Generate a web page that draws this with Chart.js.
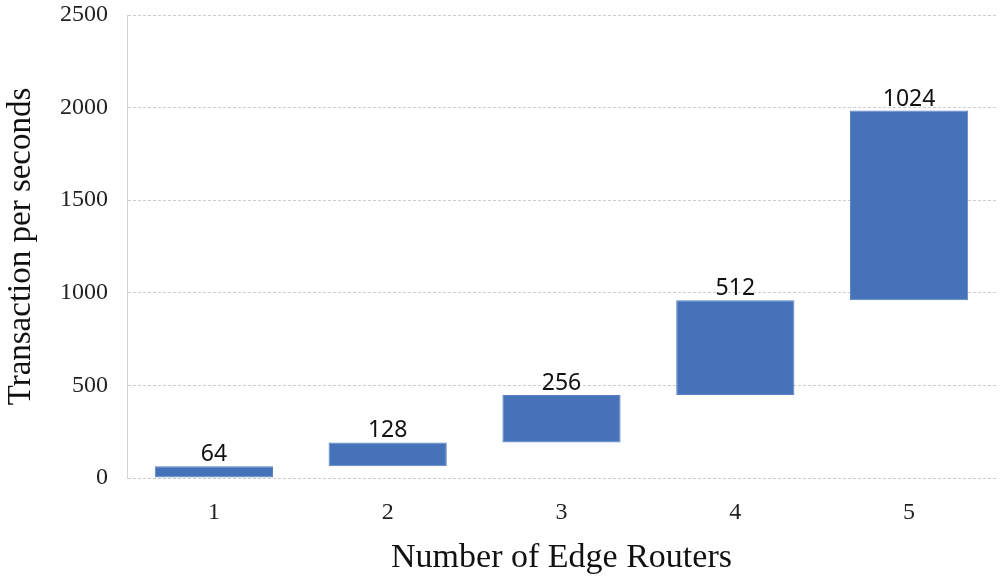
<!DOCTYPE html>
<html>
<head>
<meta charset="utf-8">
<script src="https://cdn.jsdelivr.net/npm/chart.js@4.4.0/dist/chart.umd.min.js"></script>
<style>
  html, body { margin: 0; padding: 0; background: #fff; }
  #wrap { width: 1000px; height: 579px; }
</style>
</head>
<body>
<div id="wrap"><canvas id="myChart"></canvas></div>
<script>
"use strict";

// data
const routers = ['1', '2', '3', '4', '5'];
const increments = [64, 128, 256, 512, 1024];
const yTicks = [0, 500, 1000, 1500, 2000, 2500];

// waterfall: each bar floats from the running total
let running = 0;
const floating = increments.map(function (v) {
    const bar = [running, running + v];
    running += v;
    return bar;
});

// draw the increment above each bar
const barLabels = {
    id: 'barLabels',
    afterDatasetsDraw(chart) {
        const ctx = chart.ctx;
        const meta = chart.getDatasetMeta(0);
        ctx.save();
        ctx.font = '23px "Noto Sans"';
        ctx.fillStyle = '#111';
        ctx.textAlign = 'center';
        ctx.textBaseline = 'alphabetic';
        meta.data.forEach(function (bar, i) {
            ctx.fillText(String(increments[i]), bar.x, bar.y - 5);
        });
        ctx.restore();
    }
};

const ctx = document.getElementById('myChart').getContext('2d');
const chart = new Chart(ctx, {
    type: 'bar',
    data: {
        labels: routers,
        datasets: [{
            data: floating,
            backgroundColor: '#4672b9',
            borderColor: '#5a82c4',
            borderWidth: 1,
            borderSkipped: false,
            categoryPercentage: 1,
            barPercentage: 0.68
        }]
    },
    options: {
        responsive: true,
        maintainAspectRatio: false,
        animation: false,
        layout: { padding: { top: 0, right: 4, left: 0, bottom: 1 } },
        plugins: {
            legend: { display: false },
            tooltip: { enabled: false }
        },
        scales: {
            x: {
                afterFit: function (scale) { scale.height = 100; },
                grid: { display: false },
                border: { display: false },
                ticks: {
                    color: '#222',
                    font: { family: '"Liberation Serif"', size: 24 },
                    padding: 12
                },
                title: {
                    display: true,
                    text: 'Number of Edge Routers',
                    color: '#111',
                    font: { family: '"Liberation Serif"', size: 34 },
                    padding: { top: 4, bottom: 0 }
                }
            },
            y: {
                min: 0,
                max: 2500,
                afterBuildTicks: function (scale) {
                    scale.ticks = yTicks.map(function (v) { return { value: v }; });
                },
                afterFit: function (scale) {
                    scale.width = 127;
                    scale.paddingTop = 15;
                    scale.paddingBottom = 0;
                },
                grid: {
                    color: '#cdcdcd',
                    lineWidth: 1,
                    drawTicks: false
                },
                border: { display: true, color: '#d4d4d4', dash: [3, 2] },
                ticks: {
                    color: '#222',
                    font: { family: '"Liberation Serif"', size: 24 },
                    padding: 19,
                    callback: function (v) { return String(v); }
                },
                title: {
                    display: true,
                    text: 'Transaction per seconds',
                    color: '#111',
                    font: { family: '"Liberation Serif"', size: 33 },
                    padding: { top: 2, bottom: 0 }
                }
            }
        }
    },
    plugins: [barLabels]
});
</script>
</body>
</html>
